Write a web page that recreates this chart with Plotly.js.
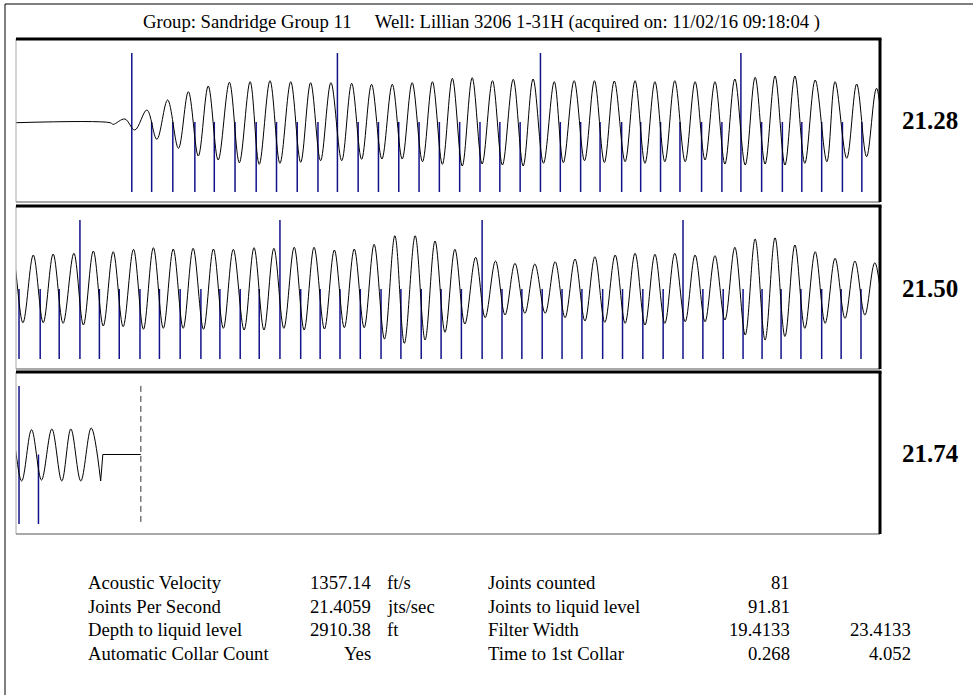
<!DOCTYPE html>
<html><head><meta charset="utf-8">
<script src="https://cdn.plot.ly/plotly-3.0.1.min.js"></script>
<style>html,body{margin:0;padding:0;background:#fff;overflow:hidden}#chart{width:973px;height:695px}</style>
</head><body><div id="chart"></div>
<script>
// ---------------- data ----------------
const titleText = "Group: Sandridge Group 11\u00a0\u00a0\u00a0\u00a0\u00a0Well: Lillian 3206 1-31H (acquired on: 11/02/16 09:18:04 )";
const panelLabels = ["21.28", "21.50", "21.74"];
const panelStart = [0, 2, 4];          // seconds at left edge of each row
const panelSpan = 2;                    // seconds per row

// filtered acoustic trace: extrema (time s, amplitude)
const waveTime = [
  0.000, 0.218, 0.225, 0.252, 0.275, 0.303, 0.326, 0.351, 0.376, 0.399,
  0.422, 0.445, 0.468, 0.494, 0.517, 0.542, 0.563, 0.588, 0.611, 0.636,
  0.659, 0.682, 0.705, 0.729, 0.754, 0.777, 0.800, 0.823, 0.847, 0.871,
  0.894, 0.917, 0.941, 0.964, 0.987, 1.010, 1.033, 1.056, 1.079, 1.103,
  1.126, 1.151, 1.174, 1.197, 1.221, 1.246, 1.267, 1.292, 1.316, 1.339,
  1.362, 1.385, 1.410, 1.433, 1.456, 1.479, 1.502, 1.525, 1.549, 1.572,
  1.595, 1.618, 1.641, 1.664, 1.688, 1.711, 1.734, 1.757, 1.780, 1.803,
  1.826, 1.850, 1.877, 1.896, 1.923, 1.946, 1.969, 1.992,
  2.016, 2.040, 2.063, 2.086, 2.109, 2.134, 2.156, 2.179, 2.202, 2.225,
  2.248, 2.272, 2.295, 2.318, 2.341, 2.364, 2.387, 2.410, 2.434, 2.457,
  2.480, 2.503, 2.528, 2.551, 2.574, 2.597, 2.620, 2.644, 2.667, 2.690,
  2.714, 2.737, 2.760, 2.783, 2.806, 2.829, 2.853, 2.877, 2.899, 2.924,
  2.947, 2.970, 2.993, 3.016, 3.039, 3.064, 3.086, 3.110, 3.132, 3.155,
  3.178, 3.201, 3.225, 3.248, 3.271, 3.294, 3.317, 3.340, 3.363, 3.387,
  3.410, 3.433, 3.456, 3.479, 3.502, 3.525, 3.549, 3.572, 3.595, 3.618,
  3.641, 3.664, 3.688, 3.711, 3.734, 3.757, 3.780, 3.803, 3.826, 3.850,
  3.873, 3.896, 3.919, 3.942, 3.965, 3.988,
  4.013, 4.036, 4.059, 4.083, 4.106, 4.127, 4.150, 4.174, 4.196
];
const waveAmp = [
  -0.7, -0.7, -2.3, 3.0, -8.0, 12.0, -17.3, 22.0, -26.3, 30.3,
  -34.0, 36.0, -38.0, 39.7, -40.7, 40.3, -42.3, 41.3, -41.3, 40.3,
  -40.3, 39.3, -38.7, 39.3, -38.7, 38.7, -37.3, 37.7, -37.0, 37.7,
  -37.0, 39.3, -39.7, 40.3, -42.3, 43.7, -44.0, 44.3, -42.0, 41.3,
  -43.0, 42.7, -44.0, 43.0, -41.3, 40.3, -40.7, 41.3, -38.7, 41.3,
  -40.5, 41.0, -39.7, 41.3, -41.3, 40.3, -39.7, 41.3, -39.7, 40.3,
  -38.0, 40.3, -42.0, 43.0, -43.0, 44.7, -42.0, 46.0, -43.0, 46.0,
  -41.3, 42.0, -39.7, 40.3, -36.3, 38.0, -34.7, 33.7,
  -33.7, 34.0, -33.7, 35.0, -34.3, 35.7, -36.0, 38.0, -37.0, 37.3,
  -37.7, 39.7, -40.3, 41.3, -39.3, 40.0, -39.3, 40.7, -40.3, 40.0,
  -39.3, 39.7, -41.0, 41.3, -41.0, 40.7, -39.3, 41.7, -41.0, 41.7,
  -40.0, 39.0, -38.7, 40.0, -38.7, 44.7, -50.0, 53.3, -54.3, 53.3,
  -51.0, 48.0, -43.3, 39.7, -35.0, 31.7, -28.7, 28.0, -26.0, 25.7,
  -24.3, 25.0, -24.3, 27.3, -28.7, 30.0, -32.0, 32.3, -33.3, 34.0,
  -34.3, 35.7, -36.0, 34.7, -34.3, 35.7, -32.7, 34.0, -32.7, 33.3,
  -31.0, 41.7, -46.0, 50.0, -51.0, 51.3, -47.5, 44.0, -39.3, 37.3,
  -34.3, 30.7, -29.3, 28.0, -26.0, 26.3,
  -26.7, 25.0, -25.7, 25.7, -26.7, 25.7, -26.7, 26.7, -26.7
];
// end of trace: drop back to baseline, flat up to liquid level
const tailTime = [4.196, 4.201, 4.289];
const tailAmp  = [-26.7, 0, 0];

// detected collars (s); every 10th is drawn full height
const collarTime = [
  0.268, 0.314, 0.363, 0.414, 0.459, 0.507, 0.556, 0.603, 0.651, 0.699,
  0.744, 0.792, 0.839, 0.886, 0.933, 0.980, 1.027, 1.074, 1.120, 1.167,
  1.214, 1.260, 1.307, 1.352, 1.402, 1.446, 1.492, 1.537, 1.587, 1.634,
  1.678, 1.726, 1.774, 1.819, 1.865, 1.913, 1.958, 2.007, 2.056, 2.100,
  2.148, 2.193, 2.239, 2.287, 2.332, 2.380, 2.428, 2.472, 2.519, 2.563,
  2.611, 2.659, 2.704, 2.750, 2.797, 2.845, 2.891, 2.938, 2.984, 3.031,
  3.079, 3.125, 3.171, 3.218, 3.264, 3.310, 3.358, 3.404, 3.451, 3.498,
  3.544, 3.590, 3.637, 3.683, 3.727, 3.771, 3.817, 3.865, 3.910, 3.956,
  4.007, 4.052
];
const liquidLevelTime = 4.289;

const infoLabels  = ["Acoustic Velocity", "Joints Per Second", "Depth to liquid level", "Automatic Collar Count"];
const infoValues  = ["1357.14", "21.4059", "2910.38", "Yes"];
const infoUnits   = ["ft/s", "jts/sec", "ft", ""];
const info2Labels = ["Joints counted", "Joints to liquid level", "Filter Width", "Time to 1st Collar"];
const info2Values = ["81", "91.81", "19.4133", "0.268"];
const info2Extra  = ["", "", "23.4133", "4.052"];

// ---------------- layout helpers ----------------
const W = 973, H = 695;
const px = v => v / W;
const py = v => 1 - v / H;
const LEFT = 16, RIGHT = 880;
const panelPx = [[39, 202], [206, 369], [372, 534]];
const Y_RANGE = [-80, 83];
const COLLAR_TOP = 69, COLLAR_BOTTOM = -70;
const FONT = "Liberation Serif, Times New Roman, serif";
const TEXT_SIZE = 18.7;
const COLLAR_COLOR = "#12128c";

const traces = [];
const layout = {
  width: W, height: H,
  margin: {l: 0, r: 0, t: 0, b: 0},
  paper_bgcolor: "#fff", plot_bgcolor: "#fff",
  showlegend: false,
  font: {family: FONT, color: "#000", size: TEXT_SIZE},
  shapes: [], annotations: []
};

panelPx.forEach((p, i) => {
  const n = i === 0 ? "" : String(i + 1);
  const xa = "x" + n, ya = "y" + n;
  layout["xaxis" + n] = {
    domain: [px(LEFT), px(RIGHT)], anchor: ya,
    range: [panelStart[i], panelStart[i] + panelSpan],
    showgrid: false, zeroline: false, showticklabels: false, ticks: "", showline: false, fixedrange: true
  };
  layout["yaxis" + n] = {
    domain: [py(p[1]), py(p[0])], anchor: xa,
    range: Y_RANGE,
    showgrid: false, zeroline: false, showticklabels: false, ticks: "", showline: false, fixedrange: true
  };
  // collar markers
  const cx = [], cy = [];
  collarTime.forEach((t, k) => {
    cx.push(t, t, null);
    cy.push(k % 10 === 0 ? COLLAR_TOP : 0, COLLAR_BOTTOM, null);
  });
  traces.push({type: "scatter", mode: "lines", x: cx, y: cy, xaxis: xa, yaxis: ya,
    line: {color: COLLAR_COLOR, width: 1.5}, hoverinfo: "skip"});
  // waveform
  traces.push({type: "scatter", mode: "lines", x: waveTime, y: waveAmp, xaxis: xa, yaxis: ya,
    line: {color: "#000", width: 1, shape: "spline", smoothing: 1}, hoverinfo: "skip"});
  traces.push({type: "scatter", mode: "lines", x: tailTime, y: tailAmp, xaxis: xa, yaxis: ya,
    line: {color: "#000", width: 1}, hoverinfo: "skip"});
  if (liquidLevelTime >= panelStart[i] && liquidLevelTime <= panelStart[i] + panelSpan) {
    traces.push({type: "scatter", mode: "lines", x: [liquidLevelTime, liquidLevelTime], y: [COLLAR_TOP, COLLAR_BOTTOM],
      xaxis: xa, yaxis: ya, line: {color: "#333", width: 1, dash: "6px,4px"}, hoverinfo: "skip"});
  }
  // panel frame
  const S = layout.shapes;
  S.push({type: "line", xref: "paper", yref: "paper", x0: px(LEFT), x1: px(LEFT), y0: py(p[0]), y1: py(p[1]), line: {color: "#a8a8a8", width: 1}});
  S.push({type: "line", xref: "paper", yref: "paper", x0: px(LEFT), x1: px(RIGHT), y0: py(p[1]), y1: py(p[1]), line: {color: "#8c8c8c", width: 1.5}});
  S.push({type: "line", xref: "paper", yref: "paper", x0: px(LEFT), x1: px(RIGHT + 1.5), y0: py(p[0]), y1: py(p[0]), line: {color: "#000", width: 3}});
  S.push({type: "line", xref: "paper", yref: "paper", x0: px(RIGHT), x1: px(RIGHT), y0: py(p[0]), y1: py(p[1]), line: {color: "#000", width: 3}});
  // panel label
  layout.annotations.push({xref: "paper", yref: "paper", x: px(900), y: py((p[0] + p[1]) / 2 + 0.5),
    xanchor: "left", yanchor: "middle", showarrow: false, text: "<b>" + panelLabels[i] + "</b>",
    font: {family: FONT, size: 25, color: "#000"}});
});

// outer frame
layout.shapes.push({type: "line", xref: "paper", yref: "paper", x0: px(5), x1: px(5), y0: py(4), y1: py(H + 5), line: {color: "#000", width: 1}});
layout.shapes.push({type: "line", xref: "paper", yref: "paper", x0: px(5), x1: px(W + 5), y0: py(4), y1: py(4), line: {color: "#000", width: 1}});

// title
layout.annotations.push({xref: "paper", yref: "paper", x: px(481), y: py(21.5), xanchor: "center", yanchor: "middle",
  showarrow: false, text: titleText, font: {family: FONT, size: TEXT_SIZE, color: "#000"}});

// info table
const rowY = [582.5, 606, 629.5, 653];
const addText = (txt, x, y, anchor) => {
  if (!txt) return;
  layout.annotations.push({xref: "paper", yref: "paper", x: px(x), y: py(y), xanchor: anchor, yanchor: "middle",
    showarrow: false, text: txt, font: {family: FONT, size: TEXT_SIZE, color: "#000"}});
};
rowY.forEach((y, r) => {
  addText(infoLabels[r], 86, y, "left");
  addText(infoValues[r], 373, y, "right");
  addText(infoUnits[r], 385, y, "left");
  addText(info2Labels[r], 486, y, "left");
  addText(info2Values[r], 792, y, "right");
  addText(info2Extra[r], 913, y, "right");
});

Plotly.newPlot("chart", traces, layout, {staticPlot: true, displayModeBar: false});
</script>
</body></html>
